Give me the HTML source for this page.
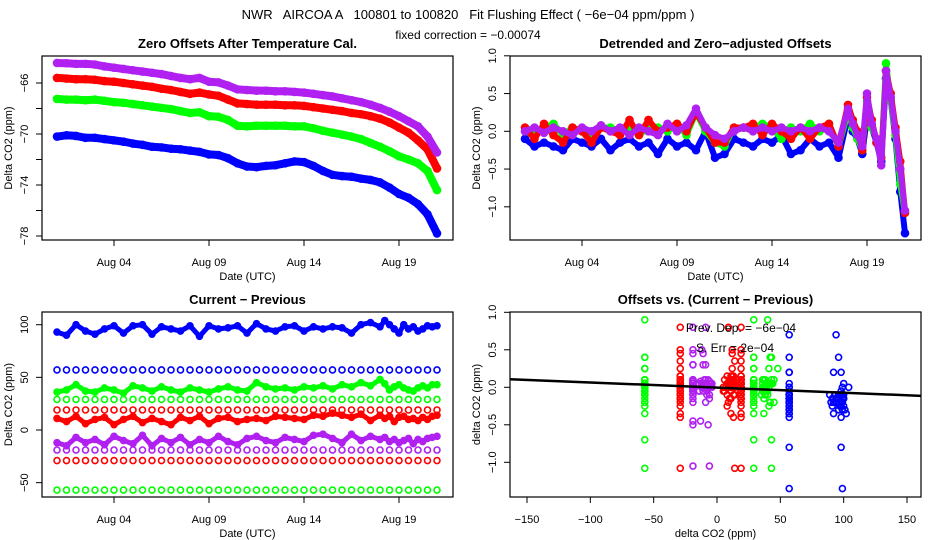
<!DOCTYPE html>
<html><head><meta charset="utf-8"><style>
html,body{margin:0;padding:0;background:#fff;}
svg{display:block;font-family:"Liberation Sans",sans-serif;}
.pre{white-space:pre;}
</style></head><body>
<svg id="chart" width="936" height="540" viewBox="0 0 936 540" xmlns="http://www.w3.org/2000/svg">
<text class="pre" xml:space="preserve" x="468" y="19" text-anchor="middle" font-size="13">NWR   AIRCOA A   100801 to 100820   Fit Flushing Effect ( −6e−04 ppm/ppm )</text>
<text x="468" y="39" text-anchor="middle" font-size="12">fixed correction = −0.00074</text>
</svg>
<script>
// ---------- data ----------
const days = [0,0.5,1,1.5,2,2.5,3,3.5,4,4.5,5,5.5,6,6.5,7,7.5,8,8.5,9,9.5,10,10.5,11,11.5,12,12.5,13,13.5,14,14.5,15,15.5,16,16.5,17,17.5,18,18.5,19,19.5,20];
const offPurple = [-64.43,-64.45,-64.5,-64.5,-64.55,-64.7,-64.8,-64.9,-65.0,-65.1,-65.2,-65.3,-65.45,-65.6,-65.7,-65.6,-65.9,-65.95,-66.2,-66.5,-66.55,-66.6,-66.6,-66.65,-66.65,-66.7,-66.75,-66.85,-66.95,-67.05,-67.2,-67.35,-67.5,-67.7,-67.95,-68.25,-68.6,-69.0,-69.4,-70.2,-71.45];
const offRed = [-65.6,-65.65,-65.7,-65.7,-65.75,-65.85,-65.9,-66.0,-66.1,-66.2,-66.3,-66.45,-66.55,-66.7,-66.85,-66.75,-66.9,-67.0,-67.3,-67.6,-67.65,-67.7,-67.7,-67.7,-67.75,-67.75,-67.8,-67.9,-68.0,-68.1,-68.2,-68.35,-68.45,-68.6,-68.8,-69.1,-69.5,-69.9,-70.5,-71.2,-72.7];
const offGreen = [-67.25,-67.3,-67.3,-67.35,-67.3,-67.4,-67.5,-67.55,-67.65,-67.75,-67.85,-67.95,-68.05,-68.2,-68.35,-68.3,-68.6,-68.65,-68.9,-69.35,-69.4,-69.35,-69.35,-69.35,-69.35,-69.4,-69.4,-69.55,-69.75,-69.9,-70.05,-70.2,-70.4,-70.7,-71.0,-71.35,-71.75,-72.0,-72.3,-72.9,-74.4];
const offBlue = [-70.2,-70.1,-70.15,-70.3,-70.3,-70.4,-70.5,-70.6,-70.75,-70.85,-71.0,-71.05,-71.15,-71.2,-71.3,-71.4,-71.6,-71.65,-71.9,-72.3,-72.55,-72.6,-72.5,-72.45,-72.3,-72.15,-72.2,-72.5,-72.9,-73.2,-73.3,-73.35,-73.5,-73.6,-73.8,-74.2,-74.7,-75.0,-75.5,-76.3,-77.8];

const tDays = [0,0.5,1,1.5,2,2.5,3,3.5,4,4.5,5,5.5,6,6.5,7,7.5,8,8.5,9,9.5,10,10.5,11,11.5,12,12.5,13,13.5,14,14.5,15,15.5,16,16.5,17,17.25,17.5,17.75,18,18.25,18.5,18.75,19,19.25,19.5,19.75,20];
const detPurple = [0.0,0.05,-0.02,0.05,0.0,-0.05,0.05,0.0,0.08,0.0,0.05,-0.05,0.05,0.0,-0.05,0.1,0.0,0.08,0.3,0.05,-0.05,-0.1,0.0,0.05,0.0,0.05,0.0,0.05,0.0,0.05,0.0,0.05,0.0,-0.15,0.3,0.1,-0.05,-0.2,0.5,0.1,-0.1,-0.45,0.8,0.45,0.0,-0.5,-1.05];
const detGreen = [0.0,-0.05,0.05,0.1,-0.05,0.05,0.0,-0.1,0.05,0.05,0.0,0.05,-0.05,0.05,0.05,0.0,0.1,-0.05,0.25,0.0,-0.15,-0.2,0.05,0.05,0.05,0.1,0.05,-0.1,0.05,0.0,0.1,0.0,0.1,-0.2,0.25,0.05,-0.1,-0.25,0.4,0.05,-0.1,-0.35,0.9,0.4,-0.05,-0.7,-1.08];
const detRed = [0.05,-0.1,0.1,-0.05,-0.15,0.05,0.0,-0.15,0.05,0.0,-0.05,0.15,-0.05,0.15,0.0,0.05,0.1,0.0,0.25,0.05,-0.15,-0.15,0.05,0.05,0.1,-0.05,0.1,0.0,-0.1,0.05,-0.1,0.05,0.1,-0.2,0.35,0.15,0.0,-0.25,0.45,0.15,-0.15,-0.35,0.8,0.5,0.05,-0.4,-1.08];
const detBlue = [-0.1,-0.2,-0.15,-0.2,-0.25,-0.1,-0.15,-0.2,-0.1,-0.25,-0.15,-0.1,-0.2,-0.15,-0.3,-0.1,-0.2,-0.15,-0.25,0.0,-0.35,-0.3,-0.1,-0.15,-0.2,-0.1,-0.15,-0.05,-0.3,-0.25,-0.1,-0.2,-0.15,-0.35,0.2,0.0,-0.1,-0.3,0.2,0.05,-0.15,-0.4,0.7,0.4,-0.1,-0.8,-1.35];

const diffBlue = [93,90,100,94,91,96,99,92,99,100,91,98,96,94,99,89,99,96,97,99,92,101,96,94,98,99,94,98,96,98,97,92,100,102,98,104,100,96,92,100,96,98,94,96,99,98,99];
const diffGreen = [36,38,43,37,36,40,38,35,42,40,37,41,38,36,40,38,36,39,41,38,37,45,41,39,40,38,41,40,42,39,43,41,45,42,48,44,38,41,43,40,38,37,40,42,40,43,43];
const diffRed = [11,8,13,6,10,12,5,10,13,7,11,8,5,12,9,13,6,11,12,8,10,11,9,13,12,11,10,14,13,16,14,12,15,9,14,11,13,8,12,13,10,11,9,12,10,13,14];
const diffPurple = [-12,-15,-7,-12,-9,-14,-6,-10,-13,-5,-15,-8,-12,-7,-14,-9,-12,-6,-11,-14,-8,-6,-10,-12,-7,-9,-11,-5,-4,-8,-12,-4,-10,-6,-9,-7,-11,-9,-12,-10,-8,-13,-9,-11,-8,-7,-6];
const levelNames = ['blue-57','green-29','red-19','purple-minus19','red-minus29','green-minus57'];
const levelValues = [57,29,19,-19,-29,-57];
const levelColors = ['blue','green','red','purple','red','green'];

const dateTicks = [3,8,13,18];
const dateLabels = ['Aug 04','Aug 09','Aug 14','Aug 19'];
const offTicks = [-66,-68,-70,-72,-74,-76,-78];
const offLabels = ['−66','','−70','','−74','','−78'];
const detTicks = [1,0.5,0,-0.5,-1];
const detLabels = ['1.0','0.5','0.0','−0.5','−1.0'];
const diffTicks = [100,50,0,-50];
const diffLabels = ['100','50','0','−50'];
const scTicksX = [-150,-100,-50,0,50,100,150];
const scLabelsX = ['−150','−100','−50','0','50','100','150'];
const fitSlope = -0.00068;
const fitIntercept = -0.004;

// ---------- helpers ----------
const NS = 'http://www.w3.org/2000/svg';
const svg = document.getElementById('chart');
const COL = {blue:'#0000ff', green:'#00ff00', red:'#ff0000', purple:'#b020f0'};
function el(tag, attrs, parent){
  const e = document.createElementNS(NS, tag);
  for (const k in attrs) e.setAttribute(k, attrs[k]);
  (parent||svg).appendChild(e);
  return e;
}
function txt(s, x, y, size, anchor, rot, weight, name){
  const t = el('text', {x:x, y:y, 'font-size':size, 'text-anchor':anchor||'middle'});
  if (rot) t.setAttribute('transform', 'rotate(-90 '+x+' '+y+')');
  if (weight) t.setAttribute('font-weight', weight);
  t.textContent = s;
  
  
  return t;
}
function lin(d0, d1, r0, r1){ return v => r0 + (v - d0) * (r1 - r0) / (d1 - d0); }

function panel(p){
  const g = el('g', {});
  
  
  const box = el('rect', {x:p.x0, y:p.y0, width:p.x1-p.x0, height:p.y1-p.y0, fill:'none', stroke:'#000', 'stroke-width':1.2}, g);
  
  
  p.xt.forEach((v,i)=>{
    const x = p.sx(v);
    const tk = el('line', {x1:x, x2:x, y1:p.y1, y2:p.y1+6, stroke:'#000', 'stroke-width':1}, g);
    
    
    if (p.xl[i]) txt(p.xl[i], x, p.y1+26, 11, 'middle', false, null, 'x-tick-label');
  });
  p.yt.forEach((v,i)=>{
    const y = p.sy(v);
    const tk = el('line', {x1:p.x0-6, x2:p.x0, y1:y, y2:y, stroke:'#000', 'stroke-width':1}, g);
    
    
    if (p.yl[i]) txt(p.yl[i], p.x0-14, y, 11, 'middle', true, null, 'y-tick-label');
  });
  txt(p.title, (p.x0+p.x1)/2, p.y0-8, 13, 'middle', false, 'bold', 'panel-title');
  txt(p.xlab, (p.x0+p.x1)/2, p.y1+40, 11, 'middle', false, null, 'x-axis-title');
  txt(p.ylab, p.x0-30, (p.y0+p.y1)/2, 11, 'middle', true, null, 'y-axis-title');
  const clip = el('clipPath', {id:'clip-'+p.name});
  el('rect', {x:p.x0, y:p.y0, width:p.x1-p.x0, height:p.y1-p.y0}, clip);
  const dg = el('g', {'clip-path':'url(#clip-'+p.name+')'}, g);
  
  
  return dg;
}
function series(g, xs, ys, sx, sy, color, lw, r, name, withLine){
  const sg = el('g', {}, g);
  
  
  if (withLine){
    const pts = xs.map((x,i)=>sx(x).toFixed(1)+','+sy(ys[i]).toFixed(1)).join(' ');
    const pl = el('polyline', {points:pts, fill:'none', stroke:COL[color], 'stroke-width':lw, 'stroke-linejoin':'round', 'stroke-linecap':'round'}, sg);
    
    
  }
  xs.forEach((x,i)=>{
    const c = el('circle', {cx:sx(x), cy:sy(ys[i]), r:r, fill:'none', stroke:COL[color], 'stroke-width':1.6}, sg);
    
    
  });
}

// ---------- panel 1 ----------
const p1 = {name:'zero-offsets-panel', x0:42, x1:453, y0:56, y1:240, sx:lin(0,20,57,437), sy:lin(-66,-78,83,236),
  xt:dateTicks, xl:dateLabels, yt:offTicks, yl:offLabels, title:'Zero Offsets After Temperature Cal.', xlab:'Date (UTC)', ylab:'Delta CO2 (ppm)'};
const g1 = panel(p1);
series(g1, days, offBlue, p1.sx, p1.sy, 'blue', 8, 3.5, 'offset-blue', true);
series(g1, days, offGreen, p1.sx, p1.sy, 'green', 8, 3.5, 'offset-green', true);
series(g1, days, offRed, p1.sx, p1.sy, 'red', 8, 3.5, 'offset-red', true);
series(g1, days, offPurple, p1.sx, p1.sy, 'purple', 8, 3.5, 'offset-purple', true);

// ---------- panel 2 ----------
const p2 = {name:'detrended-panel', x0:510, x1:921, y0:56, y1:240, sx:lin(0,20,525,905), sy:lin(0,1,131.3,55.8),
  xt:dateTicks, xl:dateLabels, yt:detTicks, yl:detLabels, title:'Detrended and Zero−adjusted Offsets', xlab:'Date (UTC)', ylab:'Delta CO2 (ppm)'};
const g2 = panel(p2);
series(g2, tDays, detBlue, p2.sx, p2.sy, 'blue', 6, 3.5, 'detrended-blue', true);
series(g2, tDays, detGreen, p2.sx, p2.sy, 'green', 6, 3.5, 'detrended-green', true);
series(g2, tDays, detRed, p2.sx, p2.sy, 'red', 6, 3.5, 'detrended-red', true);
series(g2, tDays, detPurple, p2.sx, p2.sy, 'purple', 6, 3.5, 'detrended-purple', true);

// ---------- panel 3 ----------
const p3 = {name:'current-minus-previous-panel', x0:42, x1:453, y0:312, y1:497, sx:lin(0,20,57,437), sy:lin(0,100,430,324.7),
  xt:dateTicks, xl:dateLabels, yt:diffTicks, yl:diffLabels, title:'Current − Previous', xlab:'Date (UTC)', ylab:'Delta CO2 (ppm)'};
const g3 = panel(p3);
levelValues.forEach((lv,k)=>{
  series(g3, days, days.map(()=>lv), p3.sx, p3.sy, levelColors[k], 0, 3, 'level-'+levelNames[k], false);
});
series(g3, tDays, diffBlue, p3.sx, p3.sy, 'blue', 5, 3, 'diff-blue', true);
series(g3, tDays, diffGreen, p3.sx, p3.sy, 'green', 5, 3, 'diff-green', true);
series(g3, tDays, diffRed, p3.sx, p3.sy, 'red', 5, 3, 'diff-red', true);
series(g3, tDays, diffPurple, p3.sx, p3.sy, 'purple', 5, 3, 'diff-purple', true);

// ---------- panel 4 ----------
const p4 = {name:'offsets-vs-difference-panel', x0:510, x1:921, y0:312, y1:497, sx:lin(0,150,717,907), sy:lin(0,1,387.3,312.3),
  xt:scTicksX, xl:scLabelsX, yt:detTicks, yl:detLabels, title:'Offsets vs. (Current − Previous)', xlab:'delta CO2 (ppm)', ylab:'delta CO2 (ppm)'};
const g4 = panel(p4);
const detByColor = {blue:detBlue, green:detGreen, red:detRed, purple:detPurple};
levelValues.forEach((lv,k)=>{
  const ys = detByColor[levelColors[k]];
  series(g4, ys.map(()=>lv), ys, p4.sx, p4.sy, levelColors[k], 0, 3, 'scatter-'+levelNames[k], false);
});
series(g4, diffGreen, detGreen, p4.sx, p4.sy, 'green', 0, 3, 'scatter-green', false);
series(g4, diffBlue, detBlue, p4.sx, p4.sy, 'blue', 0, 3, 'scatter-blue', false);
series(g4, diffRed, detRed, p4.sx, p4.sy, 'red', 0, 3, 'scatter-red', false);
series(g4, diffPurple, detPurple, p4.sx, p4.sy, 'purple', 0, 3, 'scatter-purple', false);
const fx0 = -165, fx1 = 165;
const fit = el('line', {x1:p4.sx(fx0), y1:p4.sy(fitIntercept+fitSlope*fx0), x2:p4.sx(fx1), y2:p4.sy(fitIntercept+fitSlope*fx1), stroke:'#000', 'stroke-width':2.5}, g4);


txt('Prev. Dep. = −6e−04', 741, 332, 12, 'middle', false, null, 'slope-annotation');
txt('S. Err =  2e−04', 735, 352, 12, 'middle', false, null, 'std-error-annotation');
</script>
</body></html>
